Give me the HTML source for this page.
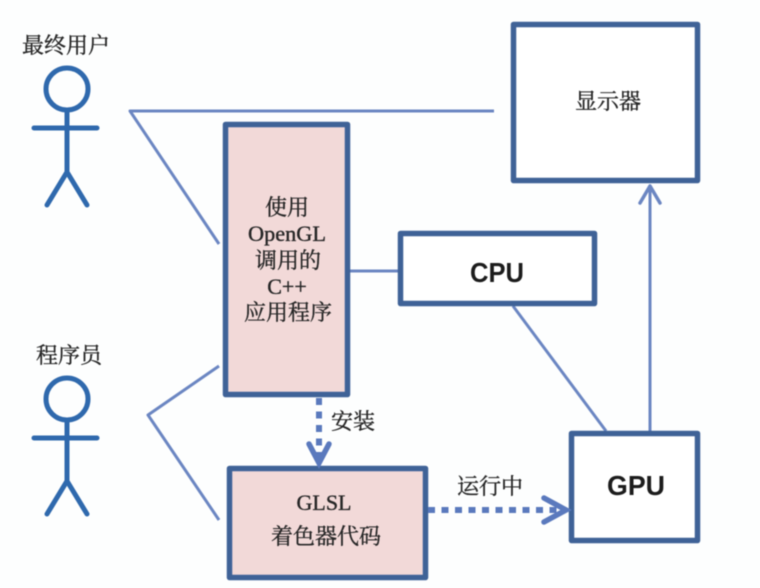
<!DOCTYPE html>
<html><head><meta charset="utf-8">
<style>
html,body{margin:0;padding:0;background:#fdfefe;width:760px;height:588px;overflow:hidden}
svg{display:block;filter:blur(0.6px)}
text{font-family:"Liberation Serif","Noto Serif CJK SC",serif;fill:#262626;stroke:#262626;stroke-width:0.35px;text-anchor:middle;font-size:22px}
.s{font-family:"Liberation Sans",sans-serif;font-weight:bold;font-size:28px;fill:#1c1c1c;stroke:none}
.box{stroke:#3f6297;stroke-width:5.5;stroke-linejoin:round}
.ln{stroke:#6b86c2;stroke-width:3;fill:none;stroke-linejoin:round}
.act{stroke:#2f69ad;stroke-width:5;fill:none;stroke-linecap:round;stroke-linejoin:round}
.dot{stroke:#5a79bd;stroke-width:6;fill:none;stroke-dasharray:7 6.5}
.hd{stroke:#5a79bd;stroke-width:5.5;fill:none;stroke-linecap:round;stroke-linejoin:miter}
</style></head>
<body>
<svg width="760" height="588" viewBox="0 0 760 588" xmlns="http://www.w3.org/2000/svg">
<!-- connectors -->
<polyline class="ln" points="494,111 130,111 219,244"/>
<polyline class="ln" points="219,366 148,415 219,520"/>
<line class="ln" x1="350" y1="271" x2="398" y2="271"/>
<line class="ln" x1="513" y1="306" x2="606" y2="431"/>
<line class="ln" x1="650" y1="431" x2="650" y2="187"/>
<polyline class="ln" style="stroke-width:3.5;stroke-linecap:round" points="640,203 650,186 660,203"/>
<!-- boxes -->
<rect class="box" x="513.5" y="24.5" width="184" height="156" fill="#ffffff"/>
<rect class="box" x="400.5" y="233.5" width="194" height="70" fill="#ffffff"/>
<rect class="box" x="571.5" y="433.5" width="126" height="107" fill="#ffffff"/>
<rect class="box" x="225.5" y="124.5" width="122" height="270" fill="#f2d9d8"/>
<rect class="box" x="229.5" y="468.5" width="196" height="109" fill="#f2d9d8"/>
<!-- dotted arrows -->
<line class="dot" x1="319" y1="398" x2="319" y2="463"/>
<polyline class="hd" points="309,444 319,463 329,444"/>
<line class="dot" x1="428" y1="510" x2="564" y2="510"/>
<polyline class="hd" points="544,498 566,510 544,522"/>
<!-- actors -->
<g class="act">
<circle cx="67" cy="89" r="21"/>
<line x1="67" y1="111" x2="67" y2="172"/>
<line x1="34" y1="128" x2="97" y2="128"/>
<polyline points="47,205 67,172 87,205"/>
<circle cx="67" cy="399" r="21"/>
<line x1="67" y1="421" x2="67" y2="481"/>
<line x1="34" y1="438" x2="97" y2="438"/>
<polyline points="47,514 67,481 87,514"/>
</g>
<!-- labels -->
<text x="66" y="53">最终用户</text>
<text x="69" y="363">程序员</text>
<text x="608" y="109">显示器</text>
<text x="287" y="215">使用</text>
<text x="287" y="241" textLength="78" lengthAdjust="spacingAndGlyphs">OpenGL</text>
<text x="288" y="268">调用的</text>
<text x="287" y="294">C++</text>
<text x="288" y="320">应用程序</text>
<text x="353" y="429">安装</text>
<text x="324" y="510">GLSL</text>
<text x="326" y="544">着色器代码</text>
<text x="490" y="494">运行中</text>
<text class="s" x="497" y="282" textLength="54" lengthAdjust="spacingAndGlyphs">CPU</text>
<text class="s" x="636" y="495" textLength="58" lengthAdjust="spacingAndGlyphs">GPU</text>
</svg>
</body></html>
